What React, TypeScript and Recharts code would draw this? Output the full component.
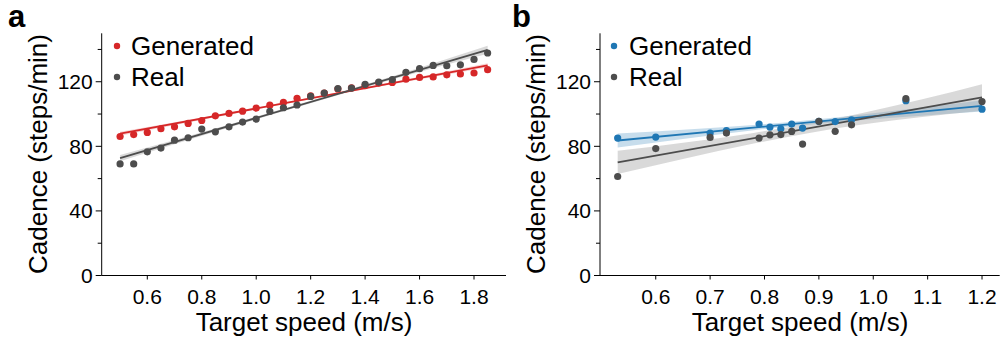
import { ComposedChart, Scatter, Line, Area, XAxis, YAxis } from 'recharts';

const FONT = '"Liberation Sans", Arial, sans-serif';
const RED = '#d62728';
const GREY = '#4d4d4d';
const BLUE = '#1f77b4';

// panel a: target speed vs cadence, dense sweep
const SPEED_A = [0.5, 0.55, 0.6, 0.65, 0.7, 0.75, 0.8, 0.85, 0.9, 0.95, 1.0, 1.05, 1.1, 1.15, 1.2, 1.25, 1.3, 1.35, 1.4, 1.45, 1.5, 1.55, 1.6, 1.65, 1.7, 1.75, 1.8, 1.85];
const GEN_A = [86.1, 87.3, 88.6, 90.9, 92.1, 94.2, 96.0, 98.9, 100.4, 101.8, 103.7, 105.5, 107.2, 109.7, 111.2, 113.0, 115.5, 116.2, 117.6, 119.2, 119.6, 121.6, 122.7, 123.0, 124.3, 124.8, 125.4, 127.5];
const REAL_A = [69.1, 69.1, 76.6, 78.9, 83.8, 85.3, 90.7, 89.0, 92.1, 95.0, 96.9, 101.6, 103.9, 105.6, 110.9, 113.0, 115.8, 116.1, 118.4, 119.8, 121.4, 125.8, 128.1, 130.1, 129.9, 130.5, 133.8, 137.8];

// regression lines + confidence bands
const FIT_X_A = [0.5, 1.85];
const FIT_GEN_A = [87.8, 130.1];
const FIT_REAL_A = [72.7, 139.8];
const BAND_X_A = [0.5, 0.84, 1.175, 1.51, 1.85];
const BAND_GEN_LO_A = [86.5, 97.75, 108.45, 118.75, 128.8];
const BAND_GEN_HI_A = [89.1, 99.15, 109.45, 120.15, 131.4];
const BAND_REAL_LO_A = [70.7, 88.6, 105.45, 121.9, 137.3];
const BAND_REAL_HI_A = [74.7, 90.6, 107.05, 123.9, 142.3];

// panel b: sparse subject speeds
const SPEED_B = [0.53, 0.6, 0.7, 0.73, 0.79, 0.81, 0.83, 0.85, 0.87, 0.9, 0.93, 0.96, 1.06, 1.2];
const GEN_B = [85.1, 85.7, 88.2, 89.8, 93.8, 91.9, 90.9, 93.8, 91.3, 95.5, 95.3, 96.4, 108.3, 103.0];
const REAL_B = [61.3, 78.6, 85.5, 88.2, 85.1, 87.1, 87.3, 89.2, 81.4, 95.5, 89.3, 93.3, 109.5, 107.7];

const FIT_X_B = [0.53, 1.2];
const FIT_GEN_B = [83.6, 105.0];
const FIT_REAL_B = [70.0, 110.3];
const BAND_X_B = [0.53, 0.65, 0.78, 0.88, 0.98, 1.09, 1.2];
const BAND_GEN_LO_B = [79.3, 84.6, 90.0, 93.4, 96.3, 99.0, 101.5];
const BAND_GEN_HI_B = [87.9, 90.2, 93.2, 96.2, 99.7, 104.0, 108.5];
const BAND_REAL_LO_B = [62.8, 72.2, 81.7, 88.15, 93.5, 98.2, 102.1];
const BAND_REAL_HI_B = [77.2, 82.2, 88.3, 93.95, 100.7, 109.2, 118.5];

const Y_TICKS = [0, 20, 40, 60, 80, 100, 120, 140];
const X_TICKS_A = [0.6, 0.8, 1.0, 1.2, 1.4, 1.6, 1.8];
const X_TICKS_B = [0.6, 0.7, 0.8, 0.9, 1.0, 1.1, 1.2];

const pts = (xs: number[], ys: number[]) => xs.map((x, i) => ({ x, y: ys[i] }));
const band = (xs: number[], lo: number[], hi: number[]) => xs.map((x, i) => ({ x, band: [lo[i], hi[i]] }));

function YTick({ x, y, payload }: any) {
  const major = payload.value % 40 === 0;
  return (
    <g>
      <line x1={x - (major ? 6 : 4)} x2={x} y1={y} y2={y} stroke="#000" strokeWidth={1} />
      {major && (
        <text x={x - 9} y={y} dy="0.36em" textAnchor="end" fontSize={21} fontFamily={FONT} fill="#000">
          {payload.value}
        </text>
      )}
    </g>
  );
}

function XTick({ x, y, payload }: any) {
  return (
    <g>
      <line x1={x} x2={x} y1={y} y2={y + 4} stroke="#000" strokeWidth={1} />
      <text x={x} y={y + 28.5} textAnchor="middle" fontSize={21} fontFamily={FONT} fill="#000">
        {payload.value.toFixed(1)}
      </text>
    </g>
  );
}

const dot = (color: string) => (p: any) => <circle cx={p.cx} cy={p.cy} r={3.6} fill={color} />;

interface PanelProps {
  left: number;
  width: number;
  margin: { top: number; right: number; left: number; bottom: number };
  domain: [number, number];
  xTicks: number[];
  speeds: number[];
  gen: number[];
  real: number[];
  fitX: number[];
  fitGen: number[];
  fitReal: number[];
  bandX: number[];
  genLo: number[];
  genHi: number[];
  realLo: number[];
  realHi: number[];
  genColor: string;
  genBandOpacity: number;
}

function Panel(p: PanelProps) {
  return (
    <div style={{ position: 'absolute', left: p.left, top: 0 }}>
      <ComposedChart width={p.width} height={343} margin={p.margin}>
        <XAxis
          dataKey="x"
          type="number"
          domain={p.domain}
          allowDataOverflow
          ticks={p.xTicks}
          interval={0}
          tick={<XTick />}
          tickLine={false}
          tickSize={0}
          tickMargin={0}
          height={60}
          axisLine={{ stroke: '#000' }}
        />
        <YAxis
          type="number"
          domain={[0, 150]}
          allowDataOverflow
          ticks={Y_TICKS}
          interval={0}
          tick={<YTick />}
          tickLine={false}
          tickSize={0}
          tickMargin={0}
          width={60}
          axisLine={{ stroke: '#000' }}
        />
        <Area
          data={band(p.bandX, p.genLo, p.genHi)}
          dataKey="band"
          type="monotone"
          stroke="none"
          fill={p.genColor}
          fillOpacity={p.genBandOpacity}
          isAnimationActive={false}
        />
        <Scatter data={pts(p.speeds, p.gen)} dataKey="y" shape={dot(p.genColor)} isAnimationActive={false} />
        <Line
          data={pts(p.fitX, p.fitGen)}
          dataKey="y"
          type="linear"
          stroke={p.genColor}
          strokeWidth={1.8}
          dot={false}
          isAnimationActive={false}
        />
        <Area
          data={band(p.bandX, p.realLo, p.realHi)}
          dataKey="band"
          type="monotone"
          stroke="none"
          fill="#a0a0a0"
          fillOpacity={0.4}
          isAnimationActive={false}
        />
        <Scatter data={pts(p.speeds, p.real)} dataKey="y" shape={dot(GREY)} isAnimationActive={false} />
        <Line
          data={pts(p.fitX, p.fitReal)}
          dataKey="y"
          type="linear"
          stroke={GREY}
          strokeWidth={1.8}
          dot={false}
          isAnimationActive={false}
        />
      </ComposedChart>
    </div>
  );
}

function Texts() {
  const t = { fontFamily: FONT, fill: '#000' };
  return (
    <svg width={1005} height={343} style={{ position: 'absolute', left: 0, top: 0, pointerEvents: 'none' }}>
      <text x={8} y={27} fontSize={31} fontWeight="bold" {...t}>a</text>
      <text x={512} y={27} fontSize={31} fontWeight="bold" {...t}>b</text>
      <text x={47} y={154} fontSize={26} textAnchor="middle" transform="rotate(-90 47 154)" {...t}>Cadence (steps/min)</text>
      <text x={545} y={154} fontSize={26} textAnchor="middle" transform="rotate(-90 545 154)" {...t}>Cadence (steps/min)</text>
      <text x={304} y={331} fontSize={26} textAnchor="middle" {...t}>Target speed (m/s)</text>
      <text x={800} y={331} fontSize={26} textAnchor="middle" {...t}>Target speed (m/s)</text>

      <circle cx={117} cy={46} r={3.2} fill={RED} />
      <text x={131} y={55} fontSize={26} {...t}>Generated</text>
      <circle cx={117} cy={77} r={3.2} fill={GREY} />
      <text x={131} y={86} fontSize={26} {...t}>Real</text>

      <circle cx={614} cy={46} r={3.2} fill={BLUE} />
      <text x={629} y={55} fontSize={26} {...t}>Generated</text>
      <circle cx={614} cy={77} r={3.2} fill={GREY} />
      <text x={629} y={86} fontSize={26} {...t}>Real</text>
    </svg>
  );
}

export default function App() {
  return (
    <div style={{ position: 'absolute', left: 0, top: 0, width: 1005, height: 343, background: '#fff', overflow: 'hidden' }}>
      <Panel
        left={0}
        width={520}
        margin={{ top: 33.3, right: 14, left: 41.7, bottom: 7.5 }}
        domain={[0.4325, 1.9175]}
        xTicks={X_TICKS_A}
        speeds={SPEED_A}
        gen={GEN_A}
        real={REAL_A}
        fitX={FIT_X_A}
        fitGen={FIT_GEN_A}
        fitReal={FIT_REAL_A}
        bandX={BAND_X_A}
        genLo={BAND_GEN_LO_A}
        genHi={BAND_GEN_HI_A}
        realLo={BAND_REAL_LO_A}
        realHi={BAND_REAL_HI_A}
        genColor={RED}
        genBandOpacity={0.2}
      />
      <Panel
        left={500}
        width={505}
        margin={{ top: 33.3, right: 5.3, left: 40, bottom: 7.5 }}
        domain={[0.4975, 1.2325]}
        xTicks={X_TICKS_B}
        speeds={SPEED_B}
        gen={GEN_B}
        real={REAL_B}
        fitX={FIT_X_B}
        fitGen={FIT_GEN_B}
        fitReal={FIT_REAL_B}
        bandX={BAND_X_B}
        genLo={BAND_GEN_LO_B}
        genHi={BAND_GEN_HI_B}
        realLo={BAND_REAL_LO_B}
        realHi={BAND_REAL_HI_B}
        genColor={BLUE}
        genBandOpacity={0.25}
      />
      <Texts />
    </div>
  );
}
